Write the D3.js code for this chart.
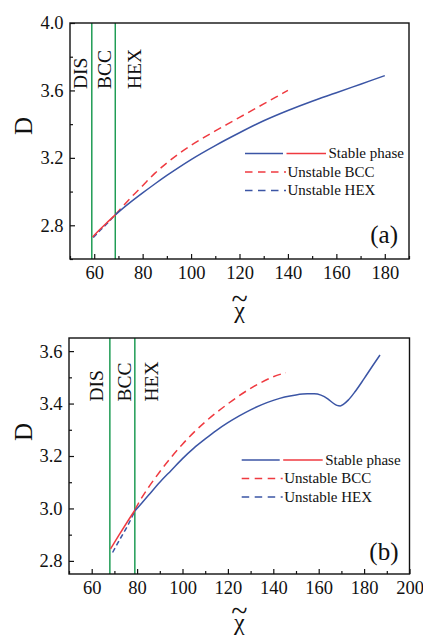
<!DOCTYPE html>
<html>
<head>
<meta charset="utf-8">
<script src="https://cdn.jsdelivr.net/npm/d3@7"></script>
<style>
  html, body { margin: 0; padding: 0; background: #fff; }
  svg { display: block; }
</style>
</head>
<body>
<svg id="chart" width="423" height="637"></svg>
<script>
// ---------- Panel (a) ----------
const aBoundaries = [59.0, 68.7];              // DIS|BCC, BCC|HEX
const aStableBCC = [[59.3, 2.73], [62, 2.77], [65, 2.812], [68.7, 2.862]];
const aUnstableHEX = [[59.6, 2.727], [62, 2.763], [65, 2.806], [68.7, 2.862]];
const aStableHEX = [[68.7, 2.862], [70, 2.878], [75, 2.937], [80, 2.992], [85, 3.045],
  [90, 3.096], [95, 3.144], [100, 3.19], [110, 3.273], [120, 3.349], [130, 3.42],
  [140, 3.481], [150, 3.536], [160, 3.586], [170, 3.637], [180, 3.688]];
const aUnstableBCC = [[68.7, 2.862], [75, 2.962], [80, 3.035], [85, 3.108], [90, 3.17],
  [95, 3.225], [100, 3.274], [105, 3.318], [110, 3.36], [115, 3.4], [120, 3.44],
  [125, 3.48], [130, 3.52], [135, 3.56], [140, 3.6]];
const aXTicks = [60, 80, 100, 120, 140, 160, 180];
const aXMinor = [50, 70, 90, 110, 130, 150, 170, 190];
const aYTicks = [2.8, 3.2, 3.6, 4.0];
const aYMinor = [2.6, 3.0, 3.4, 3.8];

// ---------- Panel (b) ----------
const bBoundaries = [68.0, 79.0];
const bStableBCC = [[68.3, 2.846], [72, 2.898], [76, 2.953], [79, 2.993]];
const bUnstableHEX = [[69.2, 2.832], [72, 2.876], [76, 2.937], [79, 2.99]];
const bStableHEX = [[79, 2.99], [85, 3.05], [90, 3.1], [95, 3.145], [100, 3.19],
  [105, 3.23], [110, 3.265], [115, 3.298], [120, 3.327], [125, 3.353], [130, 3.376],
  [135, 3.396], [140, 3.412], [145, 3.425], [150, 3.433], [155, 3.437], [158, 3.437],
  [161, 3.432], [164, 3.418], [166, 3.404], [168, 3.393], [169.5, 3.391], [171, 3.398],
  [173, 3.413], [176, 3.445], [180, 3.495], [184, 3.547], [187, 3.585]];
const bUnstableBCC = [[79, 2.995], [82, 3.04], [85, 3.08], [90, 3.14], [95, 3.195],
  [100, 3.245], [105, 3.29], [110, 3.33], [115, 3.366], [120, 3.399], [125, 3.43],
  [130, 3.458], [135, 3.482], [140, 3.502], [145.5, 3.518]];
const bXTicks = [60, 80, 100, 120, 140, 160, 180, 200];
const bXMinor = [50, 70, 90, 110, 130, 150, 170, 190];
const bYTicks = [2.8, 3.0, 3.2, 3.4, 3.6];
const bYMinor = [2.9, 3.1, 3.3, 3.5];

const phaseNames = ["DIS", "BCC", "HEX"];
const legendLabels = ["Stable phase", "Unstable BCC", "Unstable HEX"];

const BLUE = "#3b55a5", RED = "#ef3a40", GREEN = "#1f9c55";
const SERIF = "'Liberation Serif', 'Times New Roman', serif";

const svg = d3.select("#chart");

function drawPanel(p) {
  const x = d3.scaleLinear().domain(p.xDomain).range([p.left, p.right]);
  const y = d3.scaleLinear().domain(p.yDomain).range([p.bottom, p.top]);
  const g = svg.append("g");

  // phase boundaries
  g.selectAll("line.bound").data(p.bounds).join("line")
    .attr("class", "bound")
    .attr("x1", d => x(d)).attr("x2", d => x(d))
    .attr("y1", p.top).attr("y2", p.bottom)
    .attr("stroke", GREEN).attr("stroke-width", 1.5);

  const line = d3.line().x(d => x(d[0])).y(d => y(d[1])).curve(d3.curveMonotoneX);
  const series = [
    { d: p.unstableBCC, c: RED, dash: "8,5" },
    { d: p.unstableHEX, c: BLUE, dash: "5,3" },
    { d: p.stableHEX, c: BLUE, dash: null },
    { d: p.stableBCC, c: RED, dash: null }
  ];
  series.forEach(s => {
    g.append("path").attr("d", line(s.d)).attr("fill", "none")
      .attr("stroke", s.c).attr("stroke-width", 1.5)
      .attr("stroke-dasharray", s.dash);
  });

  // axes with inward ticks
  const styleAxis = sel => {
    sel.attr("font-family", null).attr("font-size", null);
    sel.select(".domain").remove();
    sel.selectAll("line").attr("stroke", "#111").attr("stroke-width", 1.2);
    sel.selectAll("text").style("font-family", SERIF)
      .style("font-size", "18.5px").attr("fill", "#111");
  };
  g.append("g").attr("transform", `translate(0,${p.bottom})`)
    .call(d3.axisBottom(x).tickValues(p.xTicks).tickSize(-5).tickPadding(6.5).tickFormat(d3.format("d")))
    .call(styleAxis);
  g.append("g").attr("transform", `translate(0,${p.bottom})`)
    .call(d3.axisBottom(x).tickValues(p.xMinor).tickSize(-3).tickFormat(""))
    .call(styleAxis);
  g.append("g").attr("transform", `translate(${p.left},0)`)
    .call(d3.axisLeft(y).tickValues(p.yTicks).tickSize(-5).tickPadding(6.5).tickFormat(d3.format(".1f")))
    .call(styleAxis);
  g.append("g").attr("transform", `translate(${p.left},0)`)
    .call(d3.axisLeft(y).tickValues(p.yMinor).tickSize(-3).tickFormat(""))
    .call(styleAxis);

  // frame
  g.append("rect").attr("x", p.left).attr("y", p.top)
    .attr("width", p.right - p.left).attr("height", p.bottom - p.top)
    .attr("fill", "none").attr("stroke", "#111").attr("stroke-width", 1.4);

  // phase region names
  p.phaseX.forEach((px, i) => {
    g.append("text").attr("transform", `translate(${x(px)},${p.phaseBase}) rotate(-90)`)
      .style("font-size", "19.5px").text(phaseNames[i]);
  });

  // legend
  const lx = p.legend[0], ly = p.legend[1], row = 18.5;
  g.append("line").attr("x1", lx).attr("x2", lx + 38).attr("y1", ly).attr("y2", ly)
    .attr("stroke", BLUE).attr("stroke-width", 1.5);
  g.append("line").attr("x1", lx + 41.5).attr("x2", lx + 81).attr("y1", ly).attr("y2", ly)
    .attr("stroke", RED).attr("stroke-width", 1.5);
  g.append("text").attr("x", lx + 83.5).attr("y", ly).attr("dy", "0.3em")
    .style("font-size", "15px").text(legendLabels[0]);
  [RED, BLUE].forEach((c, i) => {
    const yy = ly + row * (i + 1);
    g.append("line").attr("x1", lx).attr("x2", lx + 41).attr("y1", yy).attr("y2", yy)
      .attr("stroke", c).attr("stroke-width", 1.5).attr("stroke-dasharray", "7.5,5.5");
    g.append("text").attr("x", lx + 42.5).attr("y", yy).attr("dy", "0.3em")
      .style("font-size", "15px").text(legendLabels[i + 1]);
  });

  // panel tag
  g.append("text").attr("x", p.right - 11).attr("y", p.tagY)
    .attr("text-anchor", "end").style("font-size", "25px").text(p.tag);

  // axis titles
  g.append("text").attr("transform", `translate(${31.5},${p.dY}) rotate(-90)`)
    .attr("text-anchor", "middle").style("font-size", "25px").text("D");
  const cx = (p.left + p.right) / 2;
  const chi = g.append("text").attr("text-anchor", "middle");
  chi.append("tspan").attr("x", cx).attr("y", p.chiBase - 9)
    .style("font-size", "30px").text("~");
  chi.append("tspan").attr("x", cx).attr("y", p.chiBase)
    .style("font-size", "24px").text("χ");
}

drawPanel({
  left: 70, right: 409, top: 23, bottom: 259,
  xDomain: [50, 190], yDomain: [2.6, 4.0],
  bounds: aBoundaries,
  stableBCC: aStableBCC, stableHEX: aStableHEX,
  unstableBCC: aUnstableBCC, unstableHEX: aUnstableHEX,
  xTicks: aXTicks, xMinor: aXMinor, yTicks: aYTicks, yMinor: aYMinor,
  phaseX: [57.2, 67.1, 79.5], phaseBase: 89,
  legend: [245, 153.5], tag: "(a)", tagY: 243,
  dY: 126, chiBase: 318
});

drawPanel({
  left: 69, right: 409.5, top: 338, bottom: 574,
  xDomain: [50, 200], yDomain: [2.75, 3.65],
  bounds: bBoundaries,
  stableBCC: bStableBCC, stableHEX: bStableHEX,
  unstableBCC: bUnstableBCC, unstableHEX: bUnstableHEX,
  xTicks: bXTicks, xMinor: bXMinor, yTicks: bYTicks, yMinor: bYMinor,
  phaseX: [65.0, 77.5, 89.2], phaseBase: 401.5,
  legend: [241.7, 460], tag: "(b)", tagY: 560,
  dY: 432, chiBase: 630
});

// one typeface for every label
svg.selectAll("text").style("font-family", SERIF).style("fill", "#111");
</script>
</body>
</html>
